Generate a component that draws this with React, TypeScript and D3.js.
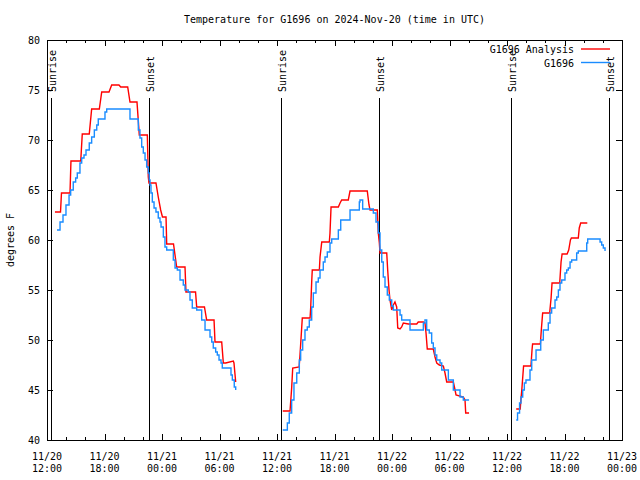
import React from "react";
import * as d3 from "d3";

// hours since 2024-11-20 12:00 UTC, value in degrees F
const analysis1: [number, number][] = [
  [0.83, 62.8], [1.41, 62.8], [1.51, 64.7], [2.4, 64.7], [2.5, 67.9], [3.52, 67.9], [3.68, 70.6],
  [4.41, 70.6], [4.66, 73.1], [5.46, 73.1], [5.71, 74.8], [6.47, 74.8], [6.75, 75.5], [7.51, 75.5],
  [7.69, 75.3], [8.42, 75.3], [8.66, 73.8], [9.39, 73.8], [9.63, 70.5], [10.47, 70.5], [10.57, 66.3],
  [10.64, 65.7], [11.37, 65.7], [11.61, 64.3], [11.86, 63.0], [12.05, 62.3], [12.42, 62.3], [12.49, 59.6],
  [13.2, 59.6], [13.53, 57.3], [14.4, 57.3], [14.5, 54.8], [15.5, 54.8], [15.62, 53.3], [16.43, 53.3],
  [16.66, 52.0], [17.43, 52.0], [17.53, 49.8], [18.23, 49.8], [18.4, 47.7], [18.65, 47.7], [19.44, 47.9],
  [19.51, 47.7], [19.69, 45.8],
];
const analysis2: [number, number][] = [
  [24.6, 42.9], [25.36, 42.9], [25.53, 45.2], [25.64, 47.2], [26.31, 47.3], [26.4, 48.5], [26.64, 52.2],
  [27.45, 52.2], [27.52, 53.3], [27.62, 55.8], [27.68, 57.0], [28.42, 57.0], [28.49, 58.3], [28.67, 59.8],
  [29.46, 59.8], [29.53, 60.7], [29.64, 63.3], [30.4, 63.3], [30.58, 63.7], [30.75, 64.0], [31.44, 64.0],
  [31.62, 64.9], [33.42, 64.9], [33.6, 63.5], [33.71, 63.0], [34.47, 63.0], [34.57, 60.7], [34.68, 59.7],
  [34.75, 58.7], [35.45, 58.7], [35.55, 57.0], [35.69, 55.0], [35.79, 54.0], [35.97, 53.0], [36.14, 53.5],
  [36.31, 53.8], [36.49, 53.3], [36.6, 51.2], [36.84, 51.1], [37.01, 51.3], [37.18, 51.7], [37.7, 51.6],
  [38.58, 51.6], [38.74, 51.8], [39.27, 51.8], [39.44, 51.7], [39.55, 50.7], [39.68, 49.1], [40.31, 49.1],
  [40.49, 48.3], [40.67, 47.7], [40.94, 47.5], [41.36, 47.4], [41.53, 46.7], [41.71, 45.8], [42.4, 45.8],
  [42.58, 45.0], [42.68, 44.5], [43.44, 44.3], [43.62, 44.0], [43.69, 42.7], [44.04, 42.7],
];
const analysis3: [number, number][] = [
  [48.96, 43.1], [49.38, 43.1], [49.45, 44.0], [49.56, 45.2], [49.73, 47.4], [50.5, 47.4], [50.61, 49.0],
  [50.67, 49.6], [51.48, 49.6], [51.58, 51.0], [51.72, 52.7], [52.45, 52.7], [52.6, 54.2], [52.7, 55.7],
  [53.5, 55.7], [53.64, 57.8], [53.75, 58.6], [54.27, 58.6], [54.44, 59.0], [54.62, 60.0], [54.72, 60.2],
  [55.44, 60.2], [55.54, 61.2], [55.69, 61.7], [56.38, 61.7],
];
const station1: [number, number][] = [
  [1.04, 61.0], [1.36, 61.8], [1.67, 62.5], [1.98, 63.5], [2.3, 64.5], [2.47, 65.0], [2.74, 65.8],
  [2.99, 66.2], [3.16, 66.7], [3.44, 67.7], [3.62, 68.2], [3.86, 68.5], [4.07, 69.0], [4.41, 69.7],
  [4.66, 70.3], [4.94, 71.0], [5.19, 71.5], [5.35, 72.1], [6.05, 72.8], [6.23, 73.1], [8.66, 72.1],
  [9.53, 71.0], [9.7, 70.2], [9.88, 69.3], [10.05, 68.7], [10.23, 68.0], [10.4, 67.3], [10.57, 66.7],
  [10.67, 66.0], [10.75, 65.5], [10.85, 64.7], [10.99, 63.8], [11.17, 63.2], [11.37, 62.8], [11.61, 62.2],
  [11.79, 61.8], [11.9, 61.3], [12.14, 60.3], [12.31, 59.3], [12.49, 59.0], [13.18, 58.0], [13.36, 57.2],
  [13.6, 57.0], [13.88, 56.0], [14.22, 55.5], [14.4, 55.0], [14.74, 54.8], [14.92, 54.0], [15.16, 53.2],
  [15.62, 53.0], [16.14, 52.0], [16.49, 51.0], [17.01, 50.3], [17.19, 49.8], [17.35, 49.2], [17.6, 48.8],
  [17.77, 48.5], [17.95, 48.0], [18.16, 47.7], [18.29, 47.2], [19.2, 46.5], [19.34, 46.0], [19.54, 45.3],
  [19.69, 45.0],
];
const station2: [number, number][] = [
  [24.6, 41.0], [25.08, 41.7], [25.28, 42.7], [25.53, 44.0], [25.77, 45.7], [26.06, 46.7], [26.33, 48.0],
  [26.47, 49.0], [26.68, 50.0], [26.92, 51.0], [27.16, 51.3], [27.37, 52.0], [27.62, 53.3], [27.79, 54.7],
  [28.07, 55.8], [28.31, 56.2], [28.49, 57.0], [28.83, 57.8], [29.01, 58.3], [29.25, 58.8], [29.53, 59.7],
  [29.71, 60.1], [30.4, 61.0], [30.65, 62.0], [31.62, 63.0], [32.59, 63.8], [32.66, 64.0], [32.94, 63.1],
  [34.05, 62.7], [34.33, 61.8], [34.57, 60.7], [34.75, 59.0], [34.93, 57.8], [35.09, 56.3], [35.27, 55.3],
  [35.51, 54.5], [35.72, 54.0], [35.97, 53.4], [36.14, 53.0], [36.84, 52.5], [37.01, 52.0], [37.88, 51.0],
  [39.27, 51.7], [39.44, 52.0], [39.62, 51.0], [39.89, 50.7], [40.14, 49.7], [40.31, 49.2], [40.49, 48.5],
  [40.67, 48.0], [41.01, 47.7], [41.19, 47.0], [41.88, 46.0], [42.4, 45.0], [43.1, 44.3], [43.44, 44.0],
  [44.04, 44.0],
];
const station3: [number, number][] = [
  [48.96, 42.0], [49.1, 42.7], [49.31, 43.7], [49.46, 44.3], [49.64, 45.0], [49.81, 45.7], [49.98, 46.0],
  [50.4, 47.0], [50.58, 48.0], [51.03, 49.0], [51.52, 50.0], [51.79, 51.0], [52.31, 51.7], [52.49, 52.7],
  [52.66, 53.2], [53.01, 54.0], [53.19, 54.3], [53.36, 55.0], [53.53, 55.7], [53.71, 56.0], [54.05, 56.7],
  [54.23, 57.0], [54.4, 57.2], [54.58, 57.8], [54.75, 58.0], [55.27, 58.7], [55.44, 58.9], [56.32, 59.7],
  [56.42, 60.1], [57.6, 60.1], [57.71, 59.8], [57.88, 59.5], [58.05, 59.2], [58.23, 58.9],
];
const sunriseHours = [0.39, 24.39, 48.39];
const sunsetHours = [10.67, 34.68, 58.68];
const yTicks = [40, 45, 50, 55, 60, 65, 70, 75, 80];

const BASE = Date.UTC(2024, 10, 20, 12);
const toDate = (h: number) => new Date(BASE + h * 3600e3);

const W = 640, H = 480;
const L = 47, R = 622, T = 40, B = 440;
const FONT = "DejaVu Sans Mono, monospace";

export default function App() {
  const x = d3.scaleUtc().domain([toDate(0), toDate(60)]).range([L, R]);
  const y = d3.scaleLinear().domain([40, 80]).range([B, T]);
  const px = (h: number) => Math.round(x(toDate(h))) + 0.5;

  const redLine = d3.line<[number, number]>().x((d) => x(toDate(d[0]))).y((d) => y(d[1])).curve(d3.curveLinear);
  const blueLine = d3.line<[number, number]>().x((d) => x(toDate(d[0]))).y((d) => y(d[1])).curve(d3.curveStepAfter);

  const major = x.ticks(d3.utcHour.every(6)!);
  const minor = x.ticks(d3.utcHour.every(2)!);
  const fmtDay = d3.utcFormat("%m/%d");
  const fmtTime = d3.utcFormat("%H:%M");

  const sun = [
    ...sunriseHours.map((h) => ({ h, label: "Sunrise" })),
    ...sunsetHours.map((h) => ({ h, label: "Sunset" })),
  ];

  return (
    <svg width={W} height={H} style={{ position: "absolute", left: 0, top: 0, background: "#fff" }} fontFamily={FONT} fontSize={10}>
      <rect x={0} y={0} width={W} height={H} fill="#fff" />
      <text x={(L + R) / 2} y={23} textAnchor="middle" fill="#000">
        Temperature for G1696 on 2024-Nov-20 (time in UTC)
      </text>
      <g shapeRendering="crispEdges" stroke="#000" strokeWidth={1}>
        {minor.map((d, i) => {
          const xx = Math.round(x(d)) + 0.5;
          const isMajor = major.some((m) => +m === +d);
          const len = isMajor ? 6 : 3;
          return (
            <g key={"m" + i}>
              <line x1={xx} x2={xx} y1={B} y2={B - len} />
              <line x1={xx} x2={xx} y1={T} y2={T + len} />
            </g>
          );
        })}
        {yTicks.map((v) => {
          const yy = Math.round(y(v)) + 0.5;
          return (
            <g key={"y" + v}>
              <line x1={L} x2={L + 6} y1={yy} y2={yy} />
              <line x1={R} x2={R - 6} y1={yy} y2={yy} />
            </g>
          );
        })}
        {sun.map((s, i) => (
          <line key={"s" + i} x1={px(s.h)} x2={px(s.h)} y1={98} y2={B} />
        ))}
        <rect x={L + 0.5} y={T + 0.5} width={R - L} height={B - T} fill="none" />
      </g>
      {sun.map((s, i) => (
        <text key={"st" + i} transform={`translate(${px(s.h) + 4},92) rotate(-90)`} textAnchor="start" fill="#000">
          {s.label}
        </text>
      ))}
      {yTicks.map((v) => (
        <text key={"yl" + v} x={40} y={y(v) + 3.5} textAnchor="end" fill="#000">
          {v}
        </text>
      ))}
      {major.map((d, i) => (
        <g key={"xl" + i}>
          <text x={x(d)} y={460} textAnchor="middle" fill="#000">{fmtDay(d)}</text>
          <text x={x(d)} y={472} textAnchor="middle" fill="#000">{fmtTime(d)}</text>
        </g>
      ))}
      <text transform={`translate(14,${(T + B) / 2}) rotate(-90)`} textAnchor="middle" fill="#000">
        degrees F
      </text>
      <g fill="none" strokeWidth={1.4} strokeLinejoin="miter">
        {[analysis1, analysis2, analysis3].map((seg, i) => (
          <path key={"r" + i} d={redLine(seg)!} stroke="#ff0000" />
        ))}
        {[station1, station2, station3].map((seg, i) => (
          <path key={"b" + i} d={blueLine(seg)!} stroke="#1a8cff" />
        ))}
      </g>
      <text x={574} y={53} textAnchor="end" fill="#000">G1696 Analysis</text>
      <line x1={581} x2={610} y1={49} y2={49} stroke="#ff0000" strokeWidth={1.4} />
      <text x={574} y={66.5} textAnchor="end" fill="#000">G1696</text>
      <line x1={581} x2={610} y1={62.5} y2={62.5} stroke="#1a8cff" strokeWidth={1.4} />
    </svg>
  );
}
